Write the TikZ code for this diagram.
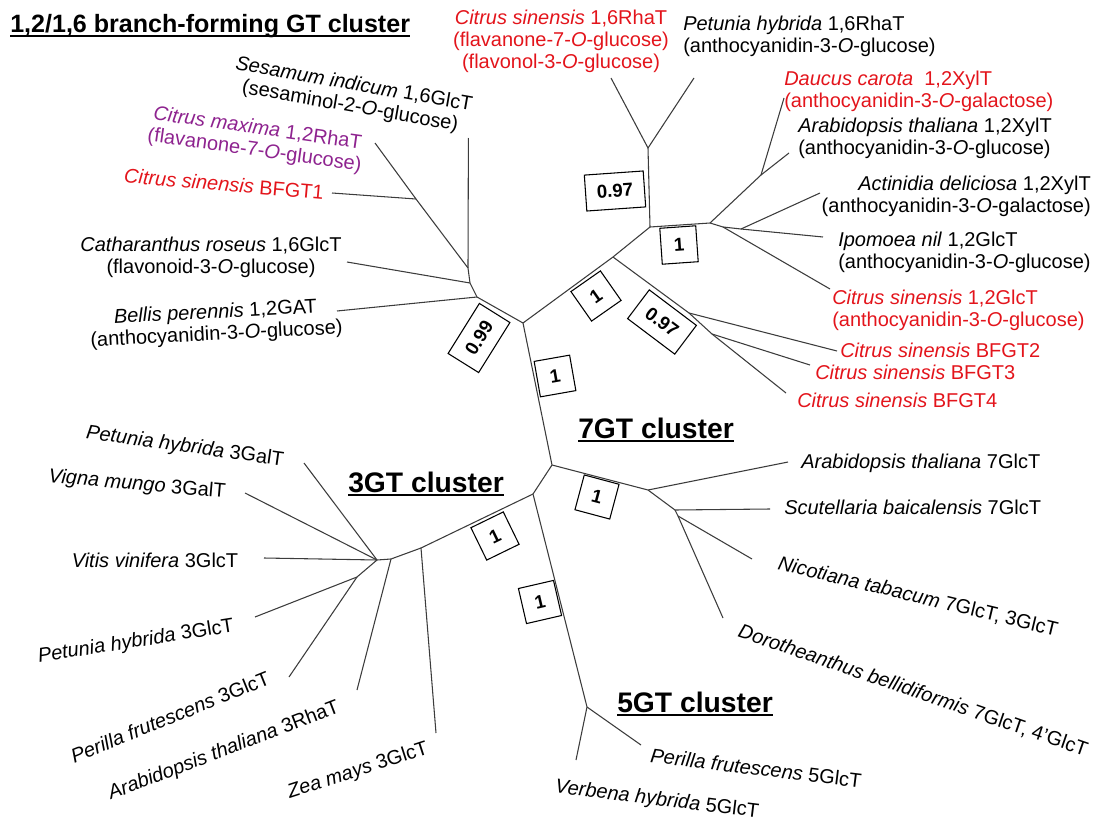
\documentclass[tikz,border=0pt]{standalone}
\usepackage{fontspec}
\setmainfont{Liberation Sans}
\definecolor{csred}{HTML}{E3141B}
\definecolor{cmpurple}{HTML}{8E238F}
\definecolor{brgrey}{HTML}{3C3C3C}
\newcommand\ulbox[1]{\setbox0\hbox{#1}\rlap{\copy0}\rule[-3pt]{\wd0}{1.5pt}}

\begin{document}
\begin{tikzpicture}[x=0.75pt, y=-0.75pt,
  br/.style={draw=brgrey, line width=0.8pt},
  lab/.style={font=\fontsize{15}{16.5}\selectfont, inner sep=0pt, align=center},
  labw/.style={lab, align=left, anchor=west},
  cs/.style={text=csred},
  boot/.style={draw, line width=0.8pt, fill=white,
    font=\fontsize{14}{16}\selectfont\bfseries,
    minimum width=27pt, minimum height=27pt, inner xsep=8.5pt},
  clus/.style={font=\fontsize{21.2}{24}\selectfont\bfseries, inner sep=0pt, anchor=base west}]
\useasboundingbox (0,0) rectangle (1103,824);
% internal nodes
\coordinate (R0) at (523,323);
\coordinate (N99) at (477,297);
\coordinate (J2) at (470,283);
\coordinate (J3) at (468,268);
\coordinate (CMB) at (416,199);
\coordinate (N1b) at (613,257);
\coordinate (N1c) at (650,227);
\coordinate (N097) at (648,148);
\coordinate (N1d) at (710,223);
\coordinate (NDA) at (761,175);
\coordinate (N1e) at (723,227);
\coordinate (NAI) at (741,229);
\coordinate (N097b) at (689,313);
\coordinate (N34) at (712,334);
\coordinate (M) at (552,465);
\coordinate (S7) at (648,490);
\coordinate (S7b) at (675,510);
\coordinate (S7c) at (678,516);
\coordinate (K) at (533,494);
\coordinate (F5) at (587,707);
\coordinate (G3c) at (421,548);
\coordinate (G3b) at (391,559);
\coordinate (G3a) at (377,560);
\coordinate (G3p) at (357,577);
% leaf tips
\coordinate (tSes) at (468.4,138);
\coordinate (tCma) at (375,143);
\coordinate (tBF1) at (332,193);
\coordinate (tCat) at (347,262);
\coordinate (tBel) at (337,311);
\coordinate (tCs16) at (611,78);
\coordinate (tPh16) at (694,78);
\coordinate (tDau) at (784,98);
\coordinate (tAtX) at (789,153);
\coordinate (tAct) at (820,193);
\coordinate (tIpo) at (823,237);
\coordinate (tCsG) at (830,289);
\coordinate (tBF2) at (837,351);
\coordinate (tBF3) at (810,365);
\coordinate (tBF4) at (786,393);
\coordinate (tAt7) at (788,462);
\coordinate (tScu) at (770,509);
\coordinate (tNic) at (752,559);
\coordinate (tDor) at (723,618);
\coordinate (tPe5) at (641,745);
\coordinate (tVer) at (576,760);
\coordinate (tZea) at (436,733);
\coordinate (tAt3) at (357,690);
\coordinate (tVit) at (264,558);
\coordinate (tPhG) at (304,463);
\coordinate (tVig) at (245,493);
\coordinate (tPh3) at (255,617);
\coordinate (tPer) at (289,677);
% branches
\draw[br] (tCma) -- (CMB) -- (J3) -- (J2) -- (N99) -- (R0);
\draw[br] (tBF1) -- (CMB);
\draw[br] (tSes) -- (J3);
\draw[br] (tCat) -- (J2);
\draw[br] (tBel) -- (N99);
\draw[br] (R0) -- (N1b) -- (N1c) -- (N097) -- (tCs16);
\draw[br] (N097) -- (tPh16);
\draw[br] (N1c) -- (N1d) -- (N1e) -- (NAI) -- (tAct);
\draw[br] (NAI) -- (tIpo);
\draw[br] (N1d) -- (NDA) -- (tDau);
\draw[br] (NDA) -- (tAtX);
\draw[br] (N1e) -- (tCsG);
\draw[br] (N1b) -- (N097b) -- (tBF2);
\draw[br] (N097b) -- (N34) -- (tBF3);
\draw[br] (N34) -- (tBF4);
\draw[br] (R0) -- (M) -- (S7) -- (tAt7);
\draw[br] (S7) -- (S7b) -- (tScu);
\draw[br] (S7b) -- (S7c) -- (tNic);
\draw[br] (S7c) -- (tDor);
\draw[br] (M) -- (K) -- (F5) -- (tPe5);
\draw[br] (F5) -- (tVer);
\draw[br] (K) -- (G3c) -- (tZea);
\draw[br] (G3c) -- (G3b) -- (tAt3);
\draw[br] (G3b) -- (G3a) -- (tVit);
\draw[br] (G3a) -- (tPhG);
\draw[br] (G3a) -- (tVig);
\draw[br] (G3a) -- (G3p) -- (tPh3);
\draw[br] (G3p) -- (tPer);
% support values
\node[boot, rotate=58] (b099) at (479,338) {0.99};
\node[boot, rotate=10] (bstem) at (555,376) {1};
\node[boot, rotate=35] (bup) at (596,296) {1};
\node[boot, rotate=4] (b097a) at (615,191) {0.97};
\node[boot, rotate=4] (b1c) at (679,245) {1};
\node[boot, rotate=-37] (b097b) at (662,322) {0.97};
\node[boot, rotate=-15] (b7) at (597,497) {1};
\node[boot, rotate=26] (b3) at (495,536) {1};
\node[boot, rotate=13] (b5) at (540,602) {1};
% cluster titles
\node[clus, font=\fontsize{18.8}{22}\selectfont\bfseries] (ttl) at (10,33) {\ulbox{1,2/1,6 branch-forming GT cluster}};
\node[clus] (c7) at (578,438) {\ulbox{7GT cluster}};
\node[clus] (c3) at (348,492) {\ulbox{3GT cluster}};
\node[clus] (c5) at (617,712) {\ulbox{5GT cluster}};
% 1,2/1,6 cluster labels
\node[lab, cs] (lCs16) at (561,41) {\textit{Citrus sinensis} 1,6RhaT\\(flavanone-7-\textit{O}-glucose)\\(flavonol-3-\textit{O}-glucose)};
\node[labw] (lPh16) at (683,36) {\textit{Petunia hybrida} 1,6RhaT\\(anthocyanidin-3-\textit{O}-glucose)};
\node[lab, rotate=-10] (lSes) at (352,96) {\textit{Sesamum indicum} 1,6GlcT\\(sesaminol-2-\textit{O}-glucose)};
\node[lab, rotate=-8, text=cmpurple] (lCma) at (256,140) {\textit{Citrus maxima} 1,2RhaT\\(flavanone-7-\textit{O}-glucose)};
\node[lab, cs, rotate=-5] (lBF1) at (224,184) {\textit{Citrus sinensis} BFGT1};
\node[lab] (lCat) at (211,257) {\textit{Catharanthus roseus} 1,6GlcT\\(flavonoid-3-\textit{O}-glucose)};
\node[lab, rotate=3] (lBel) at (216,324) {\textit{Bellis perennis} 1,2GAT\\(anthocyanidin-3-\textit{O}-glucose)};
\node[labw, cs] (lDau) at (784,91) {\textit{Daucus carota}\ \ 1,2XylT\\(anthocyanidin-3-\textit{O}-galactose)};
\node[labw] (lAtX) at (798,138) {\textit{Arabidopsis thaliana} 1,2XylT\\(anthocyanidin-3-\textit{O}-glucose)};
\node[lab, align=right, anchor=east] (lAct) at (1091,196) {\textit{Actinidia deliciosa} 1,2XylT\\(anthocyanidin-3-\textit{O}-galactose)};
\node[labw] (lIpo) at (838,252) {\textit{Ipomoea nil} 1,2GlcT\\(anthocyanidin-3-\textit{O}-glucose)};
\node[labw, cs] (lCsG) at (832,310) {\textit{Citrus sinensis} 1,2GlcT\\(anthocyanidin-3-\textit{O}-glucose)};
\node[labw, cs] (lBF2) at (840,350) {\textit{Citrus sinensis} BFGT2};
\node[labw, cs] (lBF3) at (815,372) {\textit{Citrus sinensis} BFGT3};
\node[labw, cs] (lBF4) at (797,400) {\textit{Citrus sinensis} BFGT4};
% 3GT cluster labels
\node[lab, rotate=-8] (lPhG) at (185,447) {\textit{Petunia hybrida} 3GalT};
\node[lab, rotate=-5] (lVig) at (137,485) {\textit{Vigna mungo} 3GalT};
\node[lab] (lVit) at (155,560) {\textit{Vitis vinifera} 3GlcT};
\node[lab, rotate=9] (lPh3) at (136,642) {\textit{Petunia hybrida} 3GlcT};
\node[lab, rotate=22] (lPer) at (170,717) {\textit{Perilla frutescens} 3GlcT};
\node[lab, rotate=21] (lAt3) at (224,751) {\textit{Arabidopsis thaliana} 3RhaT};
\node[lab, rotate=18] (lZea) at (358,771) {\textit{Zea mays} 3GlcT};
% 7GT and 5GT cluster labels
\node[labw] (lAt7) at (801,463) {\textit{Arabidopsis thaliana} 7GlcT};
\node[labw] (lScu) at (784,507) {\textit{Scutellaria baicalensis} 7GlcT};
\node[lab, rotate=-13.5] (lNic) at (918,597) {\textit{Nicotiana tabacum} 7GlcT, 3GlcT};
\node[lab, rotate=-19] (lDor) at (913,691) {\textit{Dorotheanthus bellidiformis} 7GlcT, 4'GlcT};
\node[lab, rotate=-7] (lPe5) at (756,768) {\textit{Perilla frutescens} 5GlcT};
\node[lab, rotate=-7] (lVer) at (657,800) {\textit{Verbena hybrida} 5GlcT};
\end{tikzpicture}
\end{document}
